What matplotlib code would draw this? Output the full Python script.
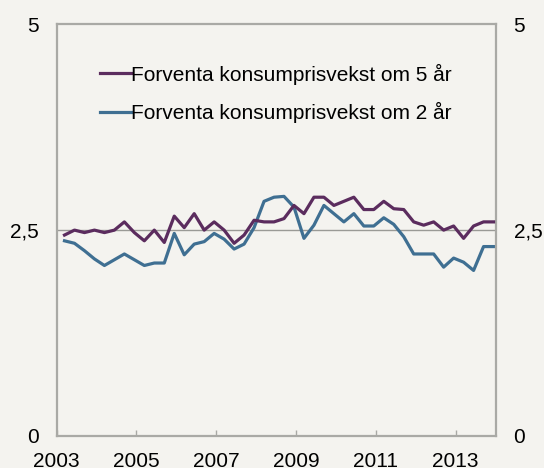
import numpy as np
import matplotlib.pyplot as plt
from matplotlib.ticker import FuncFormatter

plt.rcParams['font.family'] = ['Liberation Sans', 'DejaVu Sans']

# quarterly observations, 2003 Q1 - 2013 Q4
quarters = 2003.2 + 0.25 * np.arange(44)

exp_5yr = [2.44, 2.50, 2.47, 2.50, 2.47, 2.50, 2.60, 2.47, 2.37, 2.50, 2.35,
           2.67, 2.53, 2.70, 2.50, 2.60, 2.50, 2.34, 2.44, 2.62, 2.60, 2.60,
           2.64, 2.80, 2.70, 2.90, 2.90, 2.80, 2.85, 2.90, 2.75, 2.75, 2.85,
           2.76, 2.75, 2.60, 2.56, 2.60, 2.50, 2.55, 2.40, 2.55, 2.60, 2.60]
exp_2yr = [2.37, 2.34, 2.25, 2.15, 2.07, 2.14, 2.21, 2.14, 2.07, 2.10, 2.10,
           2.46, 2.20, 2.33, 2.36, 2.46, 2.39, 2.27, 2.33, 2.53, 2.85, 2.90,
           2.91, 2.78, 2.40, 2.56, 2.80, 2.70, 2.60, 2.70, 2.55, 2.55, 2.65,
           2.57, 2.42, 2.21, 2.21, 2.21, 2.05, 2.16, 2.11, 2.01, 2.30, 2.30]

labels = ['Forventa konsumprisvekst om 5 år', 'Forventa konsumprisvekst om 2 år']
colors = ['#5b2c5e', '#3f6f92']
year_ticks = [2003, 2005, 2007, 2009, 2011, 2013]
y_ticks = [0, 2.5, 5]

bg = '#f4f3ef'
fig = plt.figure(figsize=(5.44, 4.68), dpi=100, facecolor=bg)
ax = fig.add_axes([0.1039, 0.0688, 0.807, 0.879], facecolor=bg)

ax.axhline(2.5, color='#9a9a96', lw=1.0, zorder=1)
ax.plot(quarters, exp_5yr, color=colors[0], lw=2.3, label=labels[0], zorder=3)
ax.plot(quarters, exp_2yr, color=colors[1], lw=2.3, label=labels[1], zorder=2)

ax.set_xlim(2003, 2014)
ax.set_ylim(0, 5)
ax.set_xticks(year_ticks)
ax.set_yticks(y_ticks)
ax.yaxis.set_major_formatter(FuncFormatter(lambda v, p: ('%g' % v).replace('.', ',')))

for s in ax.spines.values():
    s.set_color('#a9a9a5')
    s.set_linewidth(1.6)

ax.tick_params(axis='x', direction='in', length=4, width=1, color='#a9a9a5',
               labelsize=15, pad=11.5)
ax.tick_params(axis='y', length=0, labelsize=15, pad=13, labelright=True)

leg = ax.legend(loc='upper left', bbox_to_anchor=(0.099, 0.905), frameon=False,
                fontsize=15, handlelength=1.5, handletextpad=0.0,
                labelspacing=0.85, borderpad=0, borderaxespad=0)

fig.savefig('out.png', dpi=100, facecolor=bg)
